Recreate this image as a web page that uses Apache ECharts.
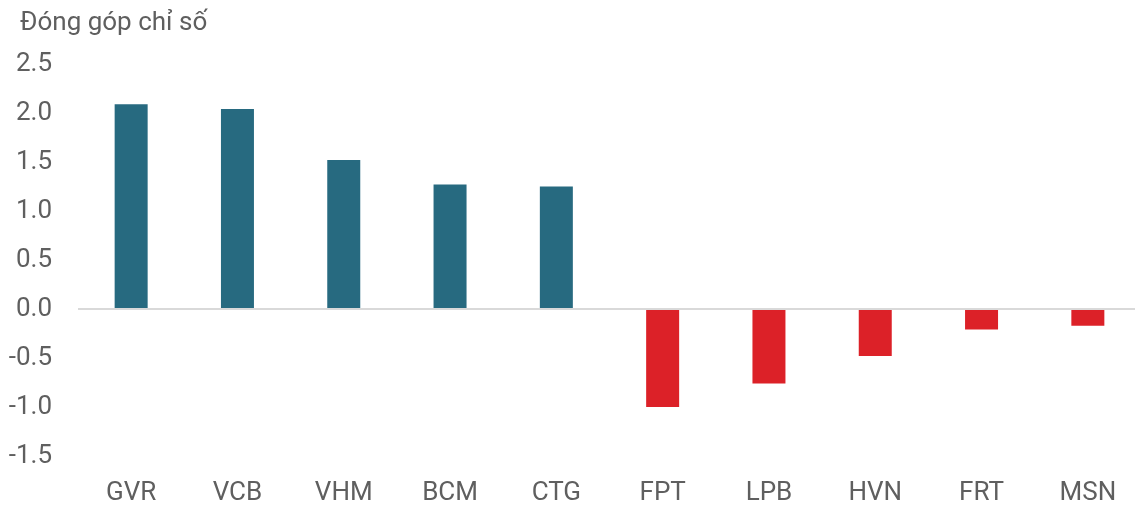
<!DOCTYPE html>
<html><head><meta charset="utf-8">
<script src="https://cdn.jsdelivr.net/npm/echarts@6/dist/echarts.min.js"></script>
<style>html,body{margin:0;padding:0;background:#fff}#c{width:1135px;height:505px}</style>
</head><body><div id="c"></div>
<script>
const categories = ['GVR','VCB','VHM','BCM','CTG','FPT','LPB','HVN','FRT','MSN'];
const values = [2.09, 2.04, 1.52, 1.27, 1.25, -1.0, -0.76, -0.48, -0.21, -0.17];
const axisTitle = 'Đóng góp chỉ số';
const posColor = '#276A80';
const negColor = '#DC2128';
const textColor = '#5f5f5f';
const font = 'Roboto';

const chart = echarts.init(document.getElementById('c'), null, {renderer:'canvas'});
chart.setOption({
  animation:false,
  title:{text:axisTitle,left:15,top:5,textStyle:{fontFamily:font,fontSize:26,fontWeight:'normal',color:textColor}},
  grid:{left:78,width:1063,top:64,bottom:49,outerBoundsMode:'none'},
  xAxis:{type:'category',data:categories,
    axisLine:{show:false,onZero:false},axisTick:{show:false},
    axisLabel:{margin:24,fontFamily:font,fontSize:26,color:textColor}},
  yAxis:{type:'value',min:-1.5,max:2.5,interval:0.5,
    splitLine:{show:false},axisLine:{show:false},axisTick:{show:false},
    axisLabel:{margin:26,fontFamily:font,fontSize:26,color:textColor,formatter:v=>v.toFixed(1)}},
  series:[{type:'bar',barWidth:33,
    data:values.map(v=>({value:v,itemStyle:{color:v>=0?posColor:negColor}})),
    markLine:{silent:true,symbol:'none',label:{show:false},
      lineStyle:{color:'#d9d9d9',width:2,type:'solid'},data:[{yAxis:0}]},
    z:3}]
});
</script></body></html>
